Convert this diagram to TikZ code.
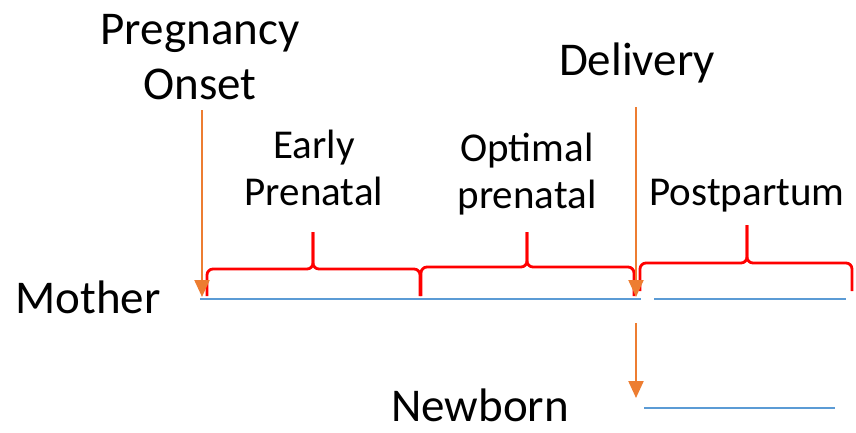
\documentclass[tikz,border=0pt]{standalone}
\usepackage{fontspec}
\setmainfont{Carlito}
\usetikzlibrary{arrows.meta}
\definecolor{phaseblue}{RGB}{91,155,213}
\definecolor{eventorange}{RGB}{237,125,49}
\tikzset{
  big/.style={font=\fontsize{47}{55}\selectfont, align=center, inner sep=0pt},
  single/.style={font=\fontsize{47}{55}\selectfont, inner sep=0pt},
  small/.style={font=\fontsize{41}{47}\selectfont, align=center, inner sep=0pt},
  timeline/.style={draw=phaseblue, line width=2.8pt},
  event/.style={draw=eventorange, line width=2.2pt, -{Triangle[width=15pt,length=17pt]}},
  stagebrace/.style={draw=red, line width=2.8pt, rounded corners=6pt}
}
\newcommand{\stagebrace}[6]{% x1, x2, mid, base, flat, tip
  \draw[stagebrace] (#1,#4) -- (#1,#5) -- (#3,#5) -- (#3,#6);
  \draw[stagebrace] (#3,#6) -- (#3,#5) -- (#2,#5) -- (#2,#4);
}
\begin{document}
\begin{tikzpicture}[x=1pt, y=-1pt]
      \useasboundingbox (0,0) rectangle (856,432);
      % labels
      \draw
        (200,99) node[big, anchor=base] (onset) {Pregnancy\\Onset}
        (637,75) node[single, anchor=base] (delivery) {Delivery}
        (88,313) node[single, anchor=base] (mother) {Mother}
        (480,421) node[single, anchor=base] (newborn) {Newborn}
        (314,205) node[small, anchor=base] (early) {Early\\Prenatal}
        (527,208) node[small, anchor=base] (optimal) {Optimal\\prenatal}
        (747,205) node[small, anchor=base] (postpartum) {Postpartum};
      % time lines
      \coordinate (m0) at (200,299);
      \coordinate (m1) at (641,299);
      \coordinate (m2) at (654,299);
      \coordinate (m3) at (846,299);
      \coordinate (n0) at (644,408);
      \coordinate (n1) at (835,408);
      \draw[timeline] (m0) -- (m1);
      \draw[timeline] (m2) -- (m3);
      \draw[timeline] (n0) -- (n1);
      % stages
      \stagebrace{207}{420}{313}{296}{269}{232}
      \stagebrace{421}{634}{527}{296}{267}{232}
      \stagebrace{640}{852}{747}{291}{263}{225}
      % events
      \coordinate (a0) at (202,110);
      \coordinate (a1) at (202,297);
      \coordinate (d0) at (636,107);
      \coordinate (d1) at (636,297);
      \coordinate (b0) at (636,323);
      \coordinate (b1) at (636,398);
      \draw[event] (a0) -- (a1);
      \draw[event] (d0) -- (d1);
      \draw[event] (b0) -- (b1);
    \end{tikzpicture}
\end{document}
